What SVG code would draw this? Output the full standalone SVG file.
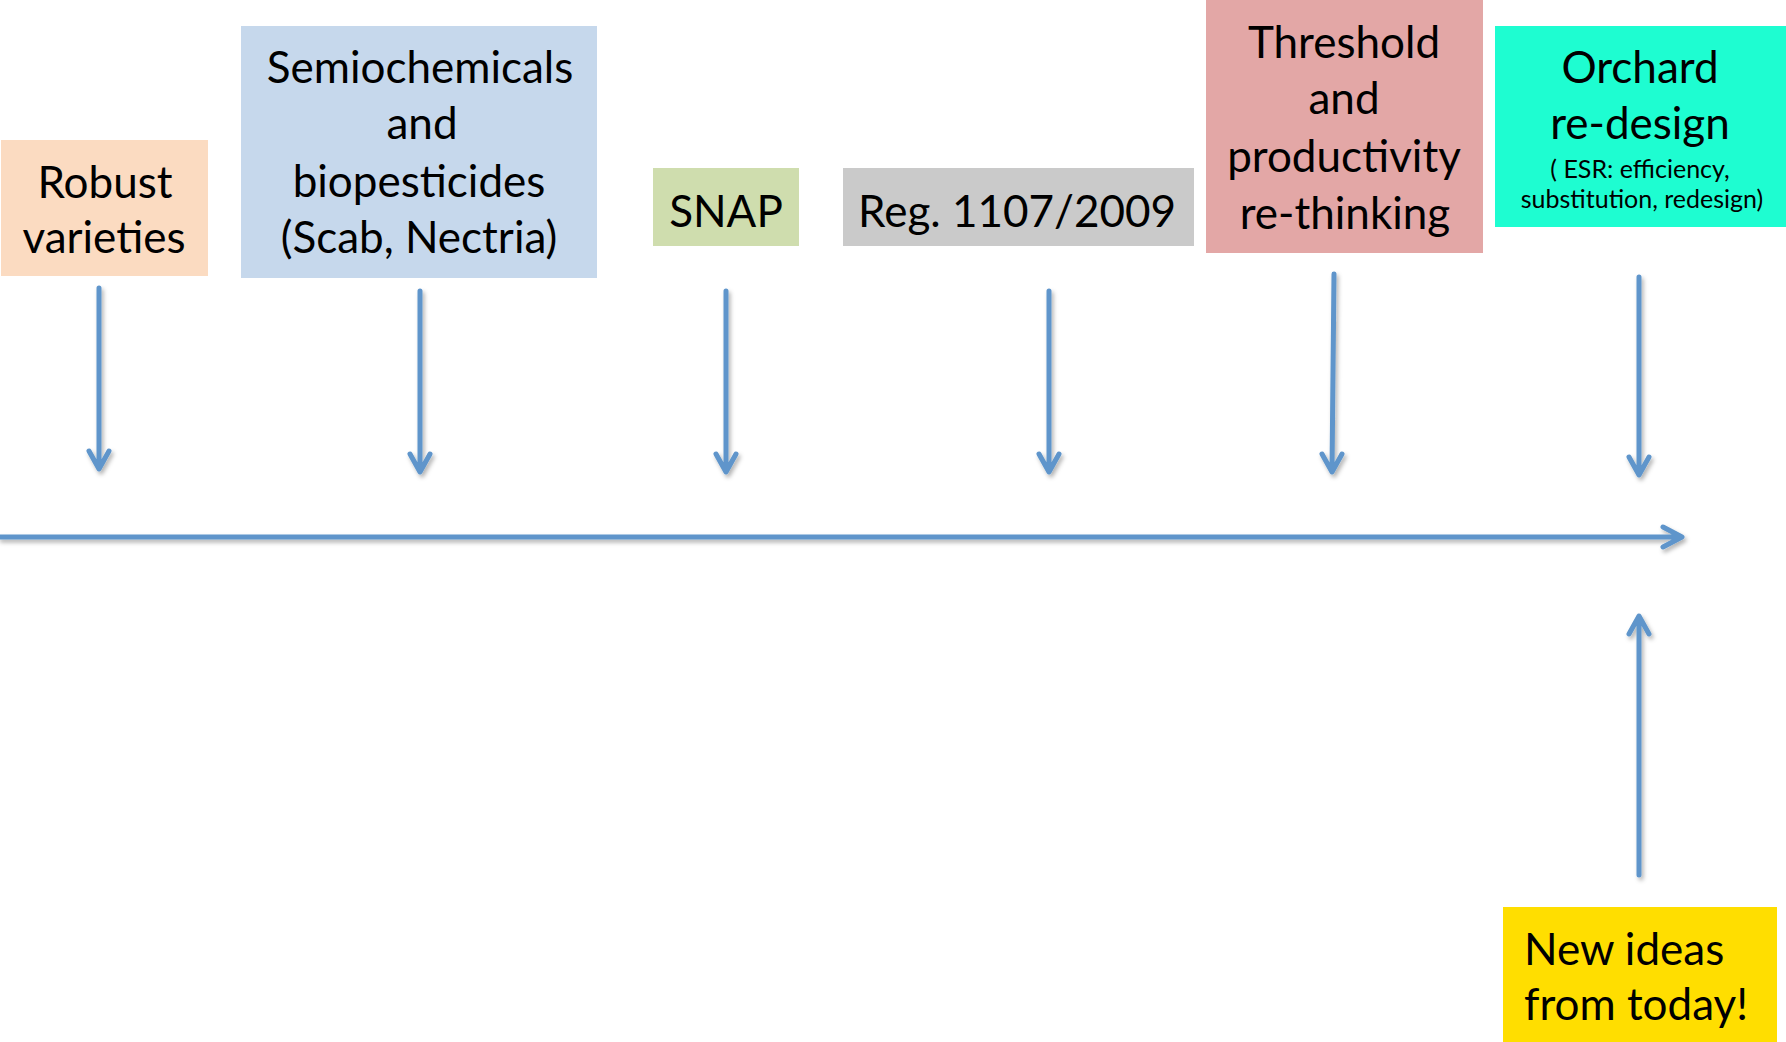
<svg xmlns="http://www.w3.org/2000/svg" width="1786" height="1042" viewBox="0 0 1786 1042">
<style>
  .t { font-family: Lato, "Liberation Sans", sans-serif; font-size: 44px; fill: #000; text-anchor: middle; }
  .s { font-family: Lato, "Liberation Sans", sans-serif; font-size: 25px; fill: #000; text-anchor: middle; }
  .l { text-anchor: start; }
  .a { fill: none; stroke: #5E95CB; stroke-width: 5; stroke-linecap: round; stroke-linejoin: round; }
</style>
<defs>
  <filter id="sh" x="-20%" y="-20%" width="140%" height="140%">
    <feDropShadow dx="2" dy="3" stdDeviation="2" flood-color="#000" flood-opacity="0.3"/>
  </filter>
</defs>
<rect width="1786" height="1042" fill="#fff"/>

<g id="robust">
  <rect x="1" y="140" width="207" height="136" fill="#FBDBC1"/>
  <text class="t" x="105" y="198">Robust</text>
  <text class="t" x="104" y="253">varieties</text>
</g>
<g id="semio">
  <rect x="241" y="26" width="356" height="252" fill="#C6D8EC"/>
  <text class="t" x="420" y="83">Semiochemicals</text>
  <text class="t" x="422" y="139">and</text>
  <text class="t" x="419" y="197">biopesticides</text>
  <text class="t" x="419" y="253">(Scab, Nectria)</text>
</g>
<g id="snap">
  <rect x="653" y="168" width="146" height="78" fill="#CFDDAE"/>
  <text class="t" x="726" y="227">SNAP</text>
</g>
<g id="reg">
  <rect x="843" y="168" width="351" height="78" fill="#CACACA"/>
  <text class="t" x="1017" y="227">Reg. 1107/2009</text>
</g>
<g id="threshold">
  <rect x="1206" y="0" width="277" height="253" fill="#E3A7A6"/>
  <text class="t" x="1344" y="58">Threshold</text>
  <text class="t" x="1344" y="114">and</text>
  <text class="t" x="1344" y="172">productivity</text>
  <text class="t" x="1345" y="229">re-thinking</text>
</g>
<g id="orchard">
  <rect x="1495" y="26" width="291" height="201" fill="#1EFDD1"/>
  <text class="t" x="1640" y="83">Orchard</text>
  <text class="t" x="1640" y="139">re-design</text>
  <text class="s" x="1640" y="178">( ESR: efficiency,</text>
  <text class="s" x="1642" y="208">substitution, redesign)</text>
</g>
<g id="newideas">
  <rect x="1503" y="907" width="274" height="135" fill="#FFDE00"/>
  <text class="t l" x="1524" y="965">New ideas</text>
  <text class="t l" x="1524" y="1020">from today!</text>
</g>

<g id="connectors" filter="url(#sh)">
  <path class="a" d="M0 537 H1681 M1663 527 L1682 537 L1663 547"/>
  <path class="a" d="M99 288 V468 M89 451 L99 469 L109 451"/>
  <path class="a" d="M420 291 V471 M410 454 L420 472 L430 454"/>
  <path class="a" d="M726 291 V471 M716 454 L726 472 L736 454"/>
  <path class="a" d="M1049 291 V471 M1039 454 L1049 472 L1059 454"/>
  <path class="a" d="M1334 274 L1332 471 M1322 454 L1332 472 L1342 454"/>
  <path class="a" d="M1639 277 V474 M1629 457 L1639 475 L1649 457"/>
  <path class="a" d="M1639 875 V617 M1629 634 L1639 616 L1649 634"/>
</g>
</svg>
